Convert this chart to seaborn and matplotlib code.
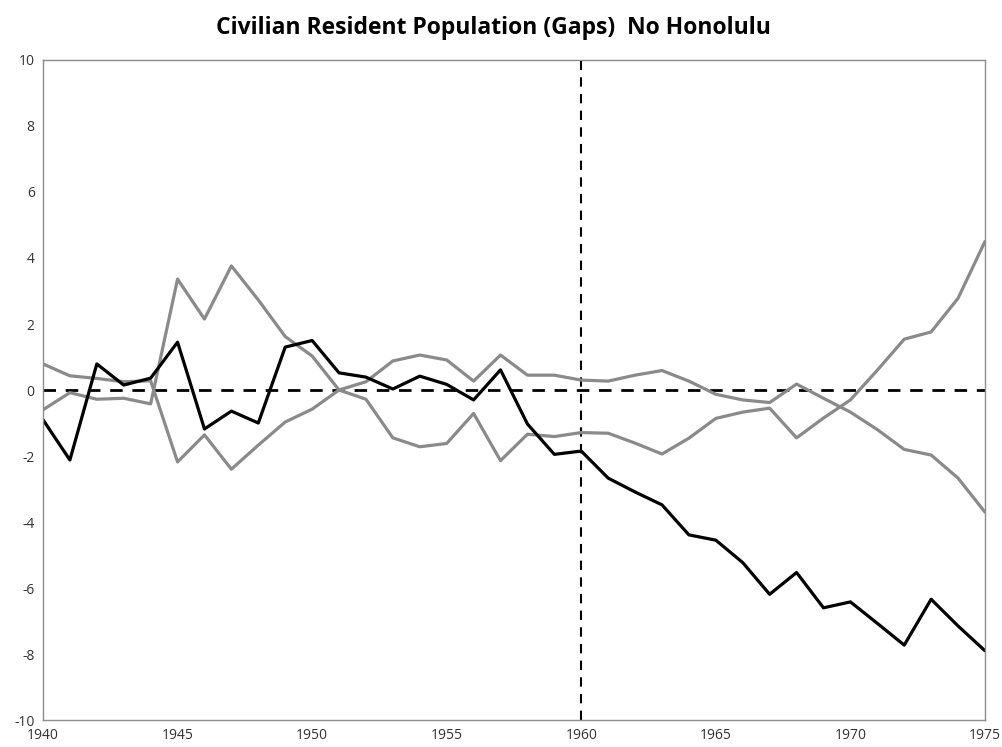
"""
Civilian resident population gaps (no Honolulu), 1940-1975.
"""

import pandas as pd
import matplotlib
matplotlib.use("Agg")
import matplotlib.pyplot as plt
import seaborn as sns

YEARS = list(range(1940, 1976))

# main gap series (black)
GAP = [-0.9, -2.12, 0.79, 0.15, 0.36, 1.45, -1.18, -0.64, -1.0, 1.3,
       1.5, 0.52, 0.39, 0.03, 0.42, 0.17, -0.3, 0.61, -1.03, -1.95,
       -1.85, -2.67, -3.09, -3.48, -4.39, -4.55, -5.23, -6.19, -5.53, -6.6,
       -6.42, -7.07, -7.73, -6.34, -7.15, -7.9]

# two comparison series (grey)
GREY_A = [-0.6, -0.08, -0.28, -0.25, -0.42, 3.36, 2.15, 3.76, 2.73, 1.62,
          1.03, 0.0, -0.28, -1.45, -1.72, -1.62, -0.71, -2.14, -1.34, -1.41,
          -1.29, -1.31, -1.61, -1.94, -1.46, -0.86, -0.67, -0.55, -1.45, -0.85,
          -0.3, 0.6, 1.54, 1.76, 2.78, 4.5]
GREY_B = [0.79, 0.43, 0.35, 0.25, 0.28, -2.18, -1.36, -2.4, -1.67, -0.97,
          -0.58, 0.0, 0.25, 0.88, 1.06, 0.91, 0.27, 1.06, 0.45, 0.45,
          0.3, 0.27, 0.45, 0.59, 0.27, -0.13, -0.3, -0.38, 0.18, -0.25,
          -0.67, -1.2, -1.8, -1.97, -2.67, -3.7]

TREATMENT_YEAR = 1960
TITLE = "Civilian Resident Population (Gaps)  No Honolulu"

GREY = "#8a8a8a"
FRAME = "#8c8c8c"

sns.set_style("white")
plt.rcParams["font.family"] = ["Open Sans", "DejaVu Sans"]
plt.rcParams["axes.unicode_minus"] = False

df = pd.DataFrame({"year": YEARS, "gap": GAP, "a": GREY_A, "b": GREY_B})

fig = plt.figure(figsize=(10.02, 7.47), dpi=100)
ax = fig.add_axes([0.0429, 0.0361, 0.9401, 0.8836])

sns.lineplot(data=df, x="year", y="a", ax=ax, color=GREY, linewidth=2.3)
sns.lineplot(data=df, x="year", y="b", ax=ax, color=GREY, linewidth=2.3)
sns.lineplot(data=df, x="year", y="gap", ax=ax, color="black", linewidth=2.3)

ax.axhline(0, color="black", linewidth=2.0, linestyle=(0, (4.5, 3.5)), zorder=1)
ax.axvline(TREATMENT_YEAR, color="black", linewidth=1.5, linestyle=(0, (4.5, 3.5)), zorder=1)

ax.set_xlim(1940, 1975)
ax.set_ylim(-10, 10)
ax.set_xticks(range(1940, 1976, 5))
ax.set_yticks(range(-10, 11, 2))
ax.set_xlabel("")
ax.set_ylabel("")
ax.tick_params(axis="both", length=0, labelsize=10, colors="#333333", pad=6)

for sp in ax.spines.values():
    sp.set_visible(True)
    sp.set_color(FRAME)
    sp.set_linewidth(1.0)

fig.suptitle(TITLE, x=0.492, y=0.978, fontsize=16.5, fontweight="bold",
             va="top", color="black")

fig.savefig("out.png", dpi=100)
